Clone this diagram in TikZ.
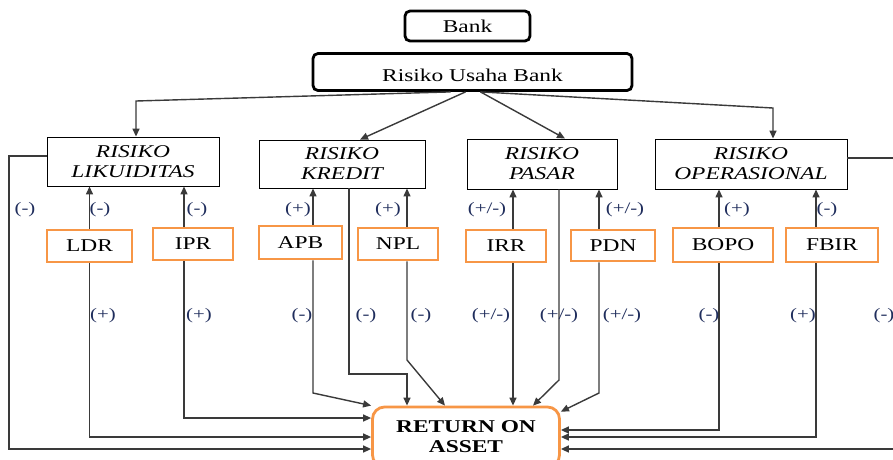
\documentclass[tikz,border=0pt]{standalone}
\usepackage{fontspec}
\setmainfont{Liberation Serif}
\usetikzlibrary{arrows.meta,calc}
\definecolor{org}{HTML}{F79646}
\definecolor{lbl}{HTML}{1F2D5C}
\definecolor{ln}{HTML}{3A3A3A}
\newcommand{\sx}[1]{\scalebox{1.3}[1]{#1}}
\begin{document}
\begin{tikzpicture}[x=1pt,y=-1pt,
  topbox/.style={draw, line width=2.8pt, rounded corners=5pt, inner sep=0pt, font=\fontsize{18}{20}\selectfont},
  riskbox/.style={draw, line width=0.9pt, inner sep=0pt, align=center, font=\fontsize{18}{20}\selectfont\itshape},
  varbox/.style={draw=org, line width=2.8pt, inner sep=0pt, font=\fontsize{18}{20}\selectfont},
  roabox/.style={draw=org, line width=2.8pt, rounded corners=12pt, inner sep=0pt, align=center, font=\fontsize{18}{20}\selectfont\bfseries},
  arr/.style={draw=ln, line width=1.4pt, -{Triangle[length=8pt,width=7pt]}},
  lab/.style={text=lbl, font=\fontsize{16}{18}\selectfont, inner sep=0pt}]
\useasboundingbox (0,0) rectangle (893,459);
\fill[white] (0,0) rectangle (893,459);

% top boxes
\node[topbox, minimum width=125pt, minimum height=30pt] (bank) at (467.5,26) {\sx{Bank}};
\node[topbox, minimum width=319pt, minimum height=37pt] (usa) at (472.5,72) {\raisebox{-9pt}[0pt][0pt]{\sx{Risiko Usaha Bank}}};

% risk boxes
\node[riskbox, minimum width=172pt, minimum height=49pt] (lik) at (133,161.5) {\sx{RISIKO}\\\sx{LIKUIDITAS}};
\node[riskbox, minimum width=166pt, minimum height=48pt] (kre) at (342,164) {\sx{RISIKO}\\\sx{KREDIT}};
\node[riskbox, minimum width=150pt, minimum height=50pt] (pas) at (542,164) {\sx{RISIKO}\\\sx{PASAR}};
\node[riskbox, minimum width=192pt, minimum height=50pt] (ope) at (751,164) {\sx{RISIKO}\\\sx{OPERASIONAL}};

% variable boxes
\node[varbox, minimum width=85pt, minimum height=32pt] (ldr) at (89.5,246) {\sx{LDR}};
\node[varbox, minimum width=80pt, minimum height=32pt] (ipr) at (193,244) {\sx{IPR}};
\node[varbox, minimum width=83pt, minimum height=33pt] (apb) at (300.5,242.5) {\sx{APB}};
\node[varbox, minimum width=80pt, minimum height=32pt] (npl) at (398,244) {\sx{NPL}};
\node[varbox, minimum width=80pt, minimum height=32pt] (irr) at (506,246) {\sx{IRR}};
\node[varbox, minimum width=84pt, minimum height=31pt] (pdn) at (613,245.5) {\sx{PDN}};
\node[varbox, minimum width=100pt, minimum height=34pt] (bopo) at (723,245) {\sx{BOPO}};
\node[varbox, minimum width=92pt, minimum height=34pt] (fbir) at (832,245) {\sx{FBIR}};

% ROA
\node[roabox, minimum width=187pt, minimum height=60pt] (roa) at (466,437) {\sx{RETURN ON}\\\sx{ASSET}};

% attachment points
\path (ldr.north) coordinate (ldrT) (ldr.south) coordinate (ldrB)
      ([xshift=-9pt]ipr.north) coordinate (iprT) ([xshift=-9pt]ipr.south) coordinate (iprB)
      ([xshift=12.5pt]apb.north) coordinate (apbT) ([xshift=12.5pt]apb.south) coordinate (apbB)
      ([xshift=9pt]npl.north) coordinate (nplT) ([xshift=9pt]npl.south) coordinate (nplB)
      ([xshift=7pt]irr.north) coordinate (irrT) ([xshift=7pt]irr.south) coordinate (irrB)
      ([xshift=-14pt]pdn.north) coordinate (pdnT) ([xshift=-14pt]pdn.south) coordinate (pdnB)
      ([xshift=-4pt]bopo.north) coordinate (bopoT) ([xshift=-4pt]bopo.south) coordinate (bopoB)
      ([xshift=-16pt]fbir.north) coordinate (fbirT) ([xshift=-16pt]fbir.south) coordinate (fbirB)
      ([xshift=7pt]kre.south) coordinate (kreB)
      ([xshift=17pt]pas.south) coordinate (pasB);
\coordinate (l1) at (136,101);
\coordinate (o1) at (773,108);
\coordinate (a1) at (313,393);
\coordinate (k1) at (407,374);
\coordinate (n1) at (407,360);
\coordinate (p1) at (559,380);
\coordinate (d1) at (599,393);
\coordinate (oL) at (9,300);
\coordinate (oR) at (897,300);

% top arrows
\draw[arr] ([xshift=-22pt]usa.south) -- (l1) -- (l1 |- lik.north);
\draw[arr] ([xshift=-7pt]usa.south) -- ([xshift=18pt]kre.north);
\draw[arr] ([xshift=8pt]usa.south) -- ([xshift=23pt]pas.north);
\draw[arr] ([xshift=8pt]usa.south) -- (o1) -- (o1 |- ope.north);

% variables up to risks
\draw[arr] (ldrT) -- (ldrT |- lik.south);
\draw[arr] (iprT) -- (iprT |- lik.south);
\draw[arr] (apbT) -- (apbT |- kre.south);
\draw[arr] (nplT) -- (nplT |- kre.south);
\draw[arr] (irrT) -- (irrT |- pas.south);
\draw[arr] (pdnT) -- (pdnT |- pas.south);
\draw[arr] (bopoT) -- (bopoT |- ope.south);
\draw[arr] (fbirT) -- (fbirT |- ope.south);

% down to ROA
\draw[arr] ([yshift=5.5pt]lik.west) -| (oL) |- ([yshift=-12pt]roa.west);
\draw[arr] (ldrB) |- (roa.west);
\draw[arr] (iprB) |- ([yshift=19pt]roa.west);
\draw[arr] (apbB) -- (a1) -- (roa.north west);
\draw[arr] (kreB) |- (k1) -- (k1 |- roa.north);
\draw[arr] (nplB) -- (n1) -- ([xshift=-21pt]roa.north);
\draw[arr] (irrB) -- (irrB |- roa.north);
\draw[arr] (pasB) -- (p1) -- ([xshift=67pt]roa.north);
\draw[arr] (pdnB) -- (d1) -- ([yshift=-6pt]roa.north east);
\draw[arr] (bopoB) |- ([yshift=7pt]roa.east);
\draw[arr] (fbirB) |- (roa.east);
\draw[arr] ([yshift=6pt]ope.east) -| (oR) |- ([yshift=-12pt]roa.east);

% labels top row
\node[lab] (t1) at (25,210) {\sx{(-)}};
\node[lab] (t2) at (100,210) {\sx{(-)}};
\node[lab] (t3) at (197,210) {\sx{(-)}};
\node[lab] (t4) at (298,210) {\sx{(+)}};
\node[lab] (t5) at (388,210) {\sx{(+)}};
\node[lab] (t6) at (487,210) {\sx{(+/-)}};
\node[lab] (t7) at (625,210) {\sx{(+/-)}};
\node[lab] (t8) at (737,210) {\sx{(+)}};
\node[lab] (t9) at (827,210) {\sx{(-)}};

% labels middle row
\node[lab] (m1) at (103,316) {\sx{(+)}};
\node[lab] (m2) at (199,316) {\sx{(+)}};
\node[lab] (m3) at (302,316) {\sx{(-)}};
\node[lab] (m4) at (366,316) {\sx{(-)}};
\node[lab] (m5) at (421,316) {\sx{(-)}};
\node[lab] (m6) at (491,316) {\sx{(+/-)}};
\node[lab] (m7) at (559,316) {\sx{(+/-)}};
\node[lab] (m8) at (622,316) {\sx{(+/-)}};
\node[lab] (m9) at (709,316) {\sx{(-)}};
\node[lab] (m10) at (803,316) {\sx{(+)}};
\node[lab] (m11) at (884,316) {\sx{(-)}};
\end{tikzpicture}
\end{document}
